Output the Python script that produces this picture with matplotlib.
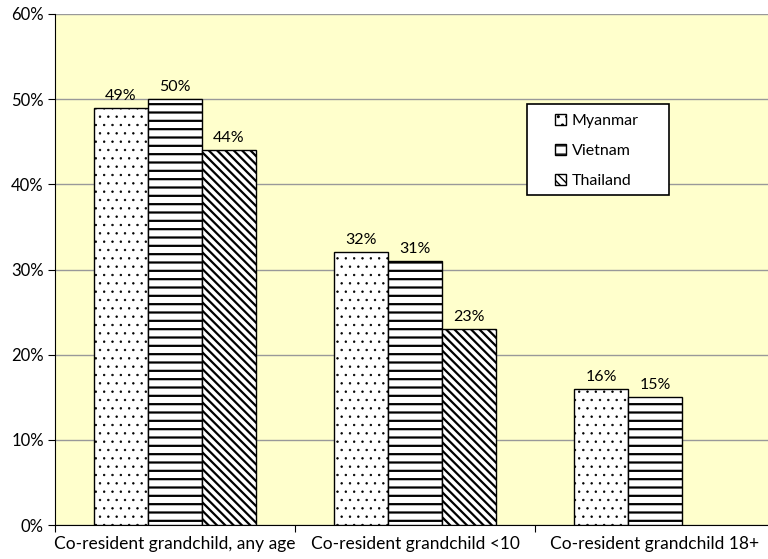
#!/usr/bin/env python3
# -*- coding: utf-8 -*-

import numpy as np
import matplotlib
matplotlib.use("Agg")
import matplotlib.pyplot as plt
from matplotlib.patches import Rectangle

# data
categories = ["Co-resident grandchild, any age",
              "Co-resident grandchild <10",
              "Co-resident grandchild 18+"]
countries  = ["Myanmar", "Vietnam", "Thailand"]
myanmar    = [49, 32, 16]
vietnam    = [50, 31, 15]
thailand   = [44, 23, None]   # no bar for the last group

series  = [myanmar, vietnam, thailand]
hatches = ["..", "--", "\\\\\\\\"]
hlw     = [0.5, 1.6, 1.6]
hcol    = ["#555555", "#222222", "#111111"]

W, H = 768, 559
AX_L, AX_B, AX_W, AX_H = 55, 34, 720, 511   # pixels

def px_to_ax(x, y):
    # figure pixel (from top-left) -> axes fraction
    return (x - AX_L) / AX_W, (H - y - AX_B) / AX_H

def main():
    plt.rcParams["font.family"] = ["Lato", "DejaVu Sans"]
    fig = plt.figure(figsize=(W/100, H/100), dpi=100)
    ax  = fig.add_axes([AX_L/W, AX_B/H, AX_W/W, AX_H/H])
    ax.set_facecolor("#FFFFCC")

    x     = np.arange(len(categories))
    width = 0.225

    for i, (name, vals) in enumerate(zip(countries, series)):
        xs = [xi + (i - 1) * width for xi, v in zip(x, vals) if v is not None]
        vs = [v for v in vals if v is not None]
        with plt.rc_context({"hatch.linewidth": hlw[i], "hatch.color": hcol[i]}):
            bars = ax.bar(xs, vs, width, color="white", edgecolor="black",
                          linewidth=1.0, hatch=hatches[i], label=name, zorder=3)
        for b, v in zip(bars, vs):
            ax.text(b.get_x() + b.get_width() / 2, v + 0.6, "%d%%" % v,
                    ha="center", va="bottom", fontsize=11.5)

    ax.set_xlim(-0.5, 2.5)
    ax.set_ylim(0, 60)
    ax.set_yticks(np.arange(0, 61, 10))
    ax.set_yticklabels(["%d%%" % t for t in range(0, 61, 10)], fontsize=12)
    ax.yaxis.grid(True, color="#999999", linewidth=1.0)
    ax.set_axisbelow(True)

    # category ticks sit between the groups, labels at the group centres
    ax.set_xticks([-0.5, 0.5, 1.5, 2.5])
    ax.set_xticklabels([])
    ax.set_xticks(x, minor=True)
    ax.set_xticklabels(categories, minor=True, fontsize=12.5)
    ax.tick_params(axis="x", which="minor", length=0, pad=8)
    ax.tick_params(axis="x", which="major", length=5)
    ax.tick_params(axis="y", length=5, pad=3)

    for s in ["top", "right"]:
        ax.spines[s].set_visible(False)

    # legend box drawn by hand, entries placed inside it
    x0, y0 = px_to_ax(527, 195)
    x1, y1 = px_to_ax(669, 104)
    ax.add_patch(Rectangle((x0, y0), x1 - x0, y1 - y0, transform=ax.transAxes,
                           facecolor="white", edgecolor="black",
                           linewidth=1.2, zorder=5))
    lx, ly = px_to_ax(555, 114)
    leg = ax.legend(loc="upper left", bbox_to_anchor=(lx, ly), frameon=False,
                    fontsize=11.5, handlelength=0.7, handleheight=0.7,
                    handletextpad=0.35, borderpad=0, borderaxespad=0,
                    labelspacing=0.98)
    leg.set_zorder(6)

    fig.savefig("out.png", dpi=100)

if __name__ == "__main__":
    main()
